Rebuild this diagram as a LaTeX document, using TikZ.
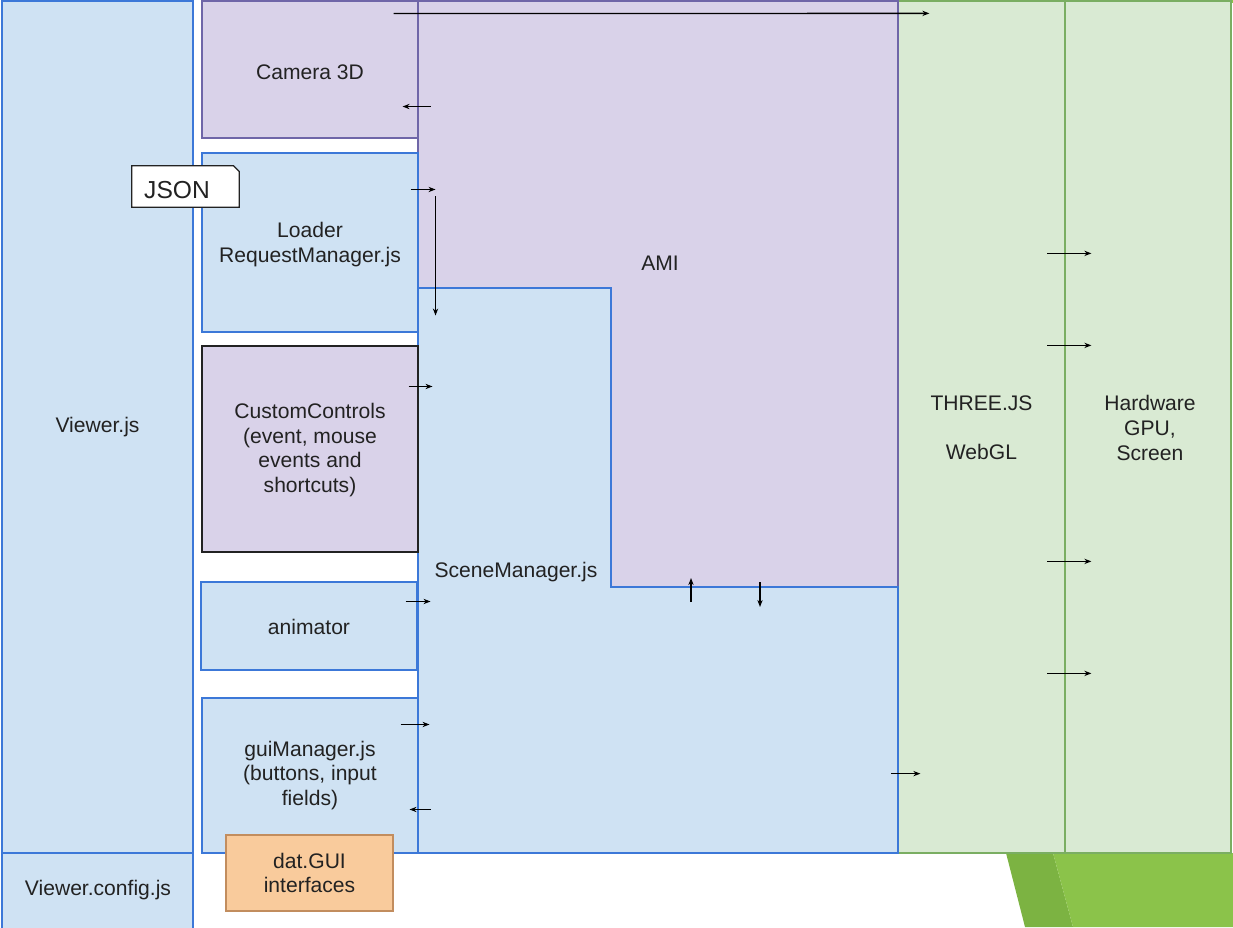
\documentclass[tikz,border=0pt]{standalone}
\usepackage{fontspec}
\setmainfont{Liberation Sans}
\usetikzlibrary{fit,arrows.meta}

\definecolor{bluefill}{HTML}{CFE2F3}
\definecolor{blueline}{HTML}{3C78D8}
\definecolor{purplefill}{HTML}{D9D2E9}
\definecolor{purpleline}{HTML}{6F66A8}
\definecolor{greenfill}{HTML}{D9EAD3}
\definecolor{greenline}{HTML}{7AAE62}
\definecolor{orangefill}{HTML}{F9CB9C}
\definecolor{orangeline}{HTML}{C28D5E}
\definecolor{slidegreen}{HTML}{8BC34A}
\definecolor{slidedark}{HTML}{7CB342}
\definecolor{inkgrey}{HTML}{222222}

\tikzset{
  base/.style={inner sep=0pt, align=center, text=inkgrey, font=\fontsize{12}{14}\selectfont},
  bluebox/.style={base, draw=blueline, fill=bluefill, line width=0.6pt},
  purplebox/.style={base, draw=purpleline, fill=purplefill, line width=0.6pt},
  greenbox/.style={base, draw=greenline, fill=greenfill, line width=0.7pt},
  orangebox/.style={base, draw=orangeline, fill=orangefill, line width=0.6pt},
  stub/.style={-{Stealth[length=4pt,width=3pt]}, line width=0.75pt, black},
}

\begin{document}
\begin{tikzpicture}[x=0.02cm, y=-0.02cm]
  \useasboundingbox (0,0) rectangle (1233,927);
  % slide decoration
  \fill[slidegreen] (778,0) rectangle (1233,3);
  \fill[slidedark] (1006,853) -- (1053,853) -- (1073,927) -- (1025,927) -- cycle;
  \fill[slidegreen] (1053,853) -- (1233,853) -- (1233,927) -- (1073,927) -- cycle;

  % viewer column
  \node[bluebox, fit={(2,1) (193,853)}] (viewer) {};
  \node[base] (viewertxt) at (viewer) {Viewer.js};
  \node[bluebox, fit={(2,853) (193,930)}] (config) {};
  \node[base] (configtxt) at (98,890) {Viewer.config.js};

  % three.js and hardware
  \node[greenbox, fit={(898,1) (1065,853)}] (three) {};
  \node[base] (threetxt) at ([shift={(0,1)}]three) {THREE.JS\\[14pt]WebGL};
  \node[greenbox, fit={(1065,1) (1231,853)}] (hw) {};
  \node[base] (hwtxt) at ([shift={(2,1)}]hw) {Hardware\\GPU,\\Screen};

  % AMI and scene manager
  \node[purplebox, fit={(418,1) (898,587)}] (ami) {};
  \node[base] (amitxt) at (660,263) {AMI};
  \coordinate (notch) at (611,587);
  \draw[blueline, fill=bluefill, line width=0.6pt] (418,288) -- (611,288) -- (notch)
    -- (898,587) -- (898,853) -- (418,853) -- cycle;
  \node[base] (scenetxt) at (516,572) {SceneManager.js};

  % modules
  \node[purplebox, fit={(202,1) (418,138)}] (cam) {};
  \node[base] (camtxt) at ([shift={(0,3)}]cam) {Camera 3D};
  \node[bluebox, fit={(202,153) (418,332)}] (loader) {};
  \node[base] (loadertxt) at ([shift={(0,2)}]loader) {Loader\\RequestManager.js};
  \node[purplebox, draw=inkgrey, fit={(202,346) (418,552)}] (cc) {};
  \node[base] (cctxt) at ([shift={(0,1)}]cc) {CustomControls\\(event, mouse\\events and\\shortcuts)};
  \node[bluebox, fit={(201,582) (417,670)}] (anim) {};
  \node[base] (animtxt) at ([shift={(0,1)}]anim) {animator};
  \node[bluebox, fit={(202,698) (418,853)}] (gui) {};
  \node[base] (guitxt) at (gui) {guiManager.js\\(buttons, input\\fields)};
  \node[orangebox, fit={(226,835) (393,911)}] (datgui) {};
  \node[base] (datguitxt) at (datgui) {dat.GUI\\interfaces};

  % JSON tab
  \node[base, fit={(132,166) (239,207)}] (json) {};
  \filldraw[fill=white, draw=inkgrey, line width=0.7pt] (json.north west)
    -- ([shift={(-6,0)}]json.north east) -- ([shift={(0,6)}]json.north east)
    -- (json.south east) -- (json.south west) -- cycle;
  \node[base, font=\fontsize{14}{16}\selectfont] (jsontxt) at (177,190) {JSON};

  % arrows
  \draw[stub] ([shift={(-25,13)}]cam.north east) -- ([shift={(32,13)}]three.north west);
  \draw[stub] ([shift={(12,-32)}]cam.south east) -- ++(-28,0);
  \draw[stub] ([shift={(-8,37)}]loader.north east) -- ++(25,0);
  \draw[stub] ([shift={(17,44)}]loader.north east) -- ([shift={(17,-17)}]loader.south east);
  \draw[stub] ([shift={(-10,41)}]cc.north east) -- ++(24,0);
  \draw[stub] ([shift={(-12,20)}]anim.north east) -- ++(25,0);
  \draw[stub] ([shift={(-18,27)}]gui.north east) -- ++(29,0);
  \draw[stub] ([shift={(12,112)}]gui.north east) -- ++(-21,0);
  \draw[stub] ([shift={(80,15)}]notch) -- ++(0,-24);
  \draw[stub] ([shift={(149,-5)}]notch) -- ++(0,25);
  \draw[stub] ([shift={(-6,-80)}]three.south west) -- ++(29,0);
  \foreach \y in {253,345,561,673}
    \draw[stub] ([shift={(-17,\y)}]hw.north west) -- ++(44,0);
\end{tikzpicture}
\end{document}
